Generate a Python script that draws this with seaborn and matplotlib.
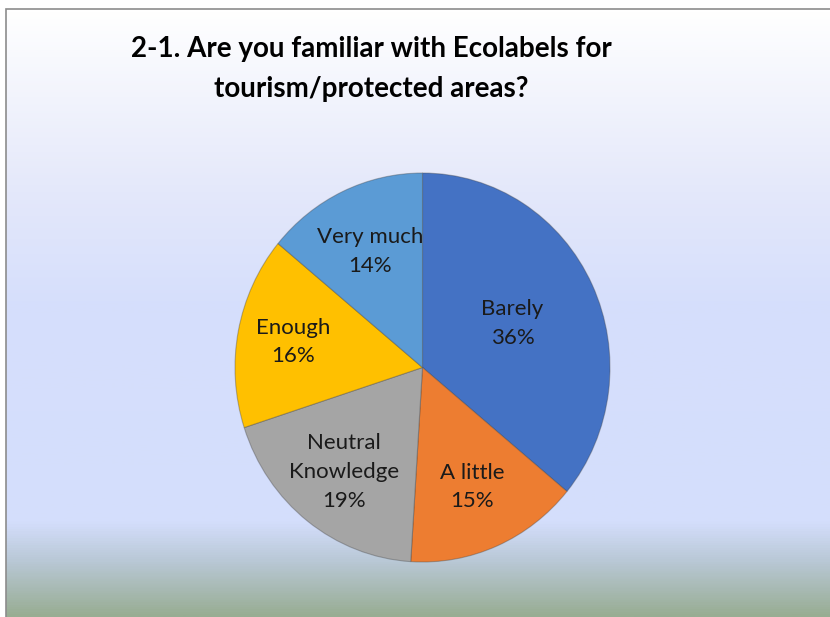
import numpy as np
import matplotlib
matplotlib.use("Agg")
import matplotlib.pyplot as plt
from matplotlib.colors import LinearSegmentedColormap
from matplotlib.patches import Rectangle
import seaborn as sns

# data
categories = ["Barely", "A little", "Neutral\nKnowledge", "Enough", "Very much"]
shares = [36, 15, 19, 16, 14]
slice_colors = ["#4472C4", "#ED7D31", "#A5A5A5", "#FFC000", "#5B9BD5"]
label_radius = [0.53, 0.67, 0.68, 0.70, 0.66]
title = "2-1. Are you familiar with Ecolabels for\ntourism/protected areas?"

sns.set_theme(style="white")
plt.rcParams["font.family"] = ["Lato", "DejaVu Sans"]

W, H = 830, 617
fig = plt.figure(figsize=(W / 100, H / 100), dpi=100)
fig.patch.set_facecolor("white")

# chart-area background gradient (white -> pale blue -> grey-green)
bg = fig.add_axes([0, 0, 1, 1], zorder=0)
bg.set_axis_off()
stops = [(0.0, "#ffffff"), (0.30, "#e4e8fa"), (0.48, "#d6dffc"),
         (0.845, "#d4defc"), (0.91, "#b9c8d6"), (1.0, "#98ad93")]
cmap = LinearSegmentedColormap.from_list("bg", stops)
grad = np.linspace(0, 1, 600).reshape(-1, 1)
bg.imshow(grad, cmap=cmap, aspect="auto", extent=[6 / W, 1, 0, 1 - 9 / H],
          transform=bg.transAxes)
bg.set_xlim(0, 1)
bg.set_ylim(0, 1)
bg.add_patch(Rectangle((6 / W, -0.01), 1.0, 1 - 9 / H + 0.01, fill=False,
                       edgecolor="#8c8c8c", linewidth=1.2, transform=bg.transAxes))

fig.text(371 / W, 1 - 69 / H, title, ha="center", va="center",
         fontsize=20, fontweight="bold", color="black", linespacing=1.65)

# pie placed where it sits in the reference (slightly taller than wide)
left, right, top, bottom = 235, 610, 173, 562
ax = fig.add_axes([left / W, 1 - bottom / H, (right - left) / W, (bottom - top) / H],
                  zorder=1)
wedges, _ = ax.pie(shares, colors=slice_colors, startangle=90, counterclock=False,
                   radius=1.0,
                   wedgeprops=dict(edgecolor=(0.25, 0.25, 0.25, 0.35), linewidth=0.8))
ax.set_aspect("auto")
ax.set_xlim(-1, 1)
ax.set_ylim(-1, 1)
ax.set_axis_off()

for w, name, val, r in zip(wedges, categories, shares, label_radius):
    mid = np.deg2rad((w.theta1 + w.theta2) / 2)
    ax.text(r * np.cos(mid), r * np.sin(mid), f"{name}\n{val}%", ha="center",
            va="center", fontsize=16, color="#1a1a1a", linespacing=1.55)

fig.savefig("out.png", dpi=100)
